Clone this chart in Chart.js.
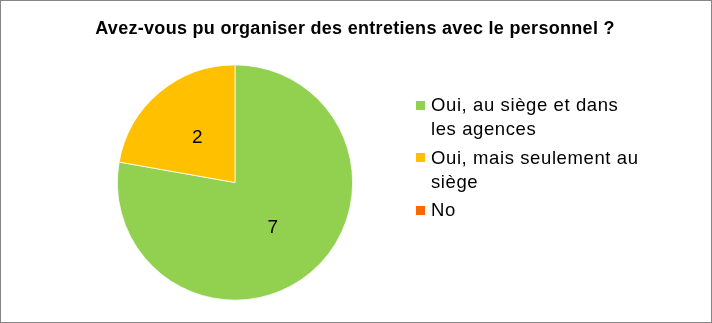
<!DOCTYPE html>
<html>
<head>
<meta charset="utf-8">
<script src="https://cdn.jsdelivr.net/npm/chart.js@4.4.1/dist/chart.umd.min.js"></script>
<style>
  html, body { margin: 0; padding: 0; background: #ffffff; }
  #wrap { width: 712px; height: 323px; position: relative; }
</style>
</head>
<body>
<div id="wrap"><canvas id="c" width="712" height="323"></canvas></div>
<script>
// Survey answers
const titleText = 'Avez-vous pu organiser des entretiens avec le personnel ?';
const categories = [
  ['Oui, au siège et dans', 'les agences'],
  ['Oui, mais seulement au', 'siège'],
  ['No']
];
const counts = [7, 2, 0];
const sliceColors = ['#92D050', '#FFC000', '#FF6600'];

const FONT = '"Liberation Sans", Arial, sans-serif';

function setSpacing(ctx, px) {
  if ('letterSpacing' in ctx) ctx.letterSpacing = px + 'px';
}

// Frame, title, wrapped legend and in-slice value labels
const decorations = {
  id: 'decorations',
  beforeDraw(chart) {
    const ctx = chart.ctx;
    ctx.save();
    ctx.fillStyle = '#ffffff';
    ctx.fillRect(0, 0, chart.width, chart.height);
    ctx.restore();
  },
  afterDraw(chart) {
    const ctx = chart.ctx;
    ctx.save();

    // outer frame
    ctx.strokeStyle = '#868686';
    ctx.lineWidth = 1;
    ctx.strokeRect(0.5, 0.5, chart.width - 1, chart.height - 1);

    // title
    ctx.fillStyle = '#000000';
    ctx.font = 'bold 18px ' + FONT;
    setSpacing(ctx, 0.3);
    ctx.textAlign = 'center';
    ctx.textBaseline = 'alphabetic';
    ctx.fillText(titleText, 355, 34);

    // value labels at the slice centroids
    const meta = chart.getDatasetMeta(0);
    ctx.font = '19px ' + FONT;
    setSpacing(ctx, 0);
    ctx.textBaseline = 'middle';
    meta.data.forEach((arc, i) => {
      const v = chart.data.datasets[0].data[i];
      if (!v) return;
      const p = arc.tooltipPosition();
      ctx.fillText(String(v), p.x, p.y);
    });

    // legend
    const labels = chart.data.labels;
    const colors = chart.data.datasets[0].backgroundColor;
    const boxX = 416, boxSize = 9, textX = 431;
    const lineH = 24, itemGap = 28.5;
    let y = 105;
    ctx.textAlign = 'left';
    ctx.font = '18.5px ' + FONT;
    setSpacing(ctx, 0.6);
    labels.forEach((lines, i) => {
      const arr = Array.isArray(lines) ? lines : [lines];
      ctx.fillStyle = colors[i];
      ctx.fillRect(boxX, Math.round(y - boxSize / 2), boxSize, boxSize);
      ctx.fillStyle = '#000000';
      arr.forEach((t, j) => {
        ctx.fillText(t, textX, y + j * lineH + 1);
      });
      y += (arr.length - 1) * lineH + itemGap;
    });

    ctx.restore();
  }
};

new Chart(document.getElementById('c'), {
  type: 'pie',
  data: {
    labels: categories,
    datasets: [{
      data: counts,
      backgroundColor: sliceColors,
      borderColor: '#ffffff',
      borderWidth: 0.75
    }]
  },
  options: {
    responsive: false,
    animation: false,
    layout: { padding: { left: 117, right: 359, top: 64, bottom: 22 } },
    plugins: {
      legend: { display: false },
      title: { display: false },
      tooltip: { enabled: false }
    }
  },
  plugins: [decorations]
});
</script>
</body>
</html>
